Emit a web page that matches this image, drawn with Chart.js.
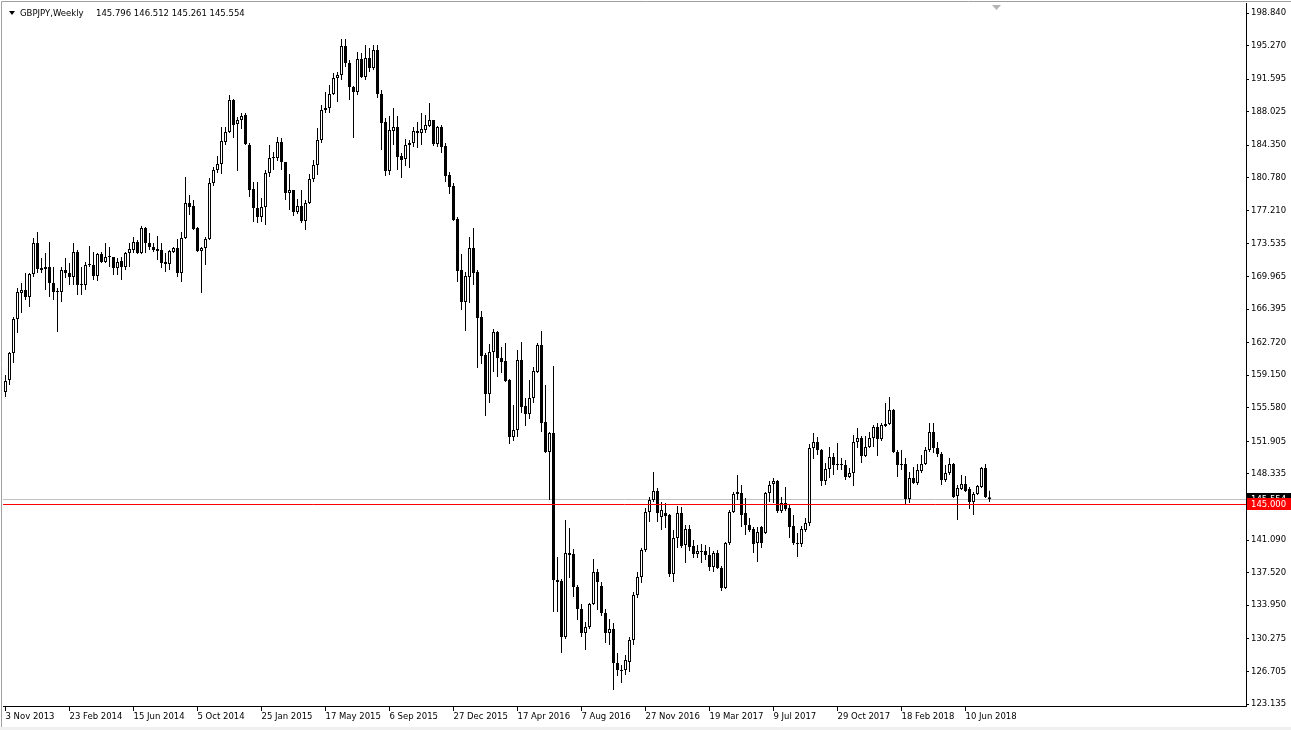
<!DOCTYPE html>
<html lang="en">
<head>
<meta charset="UTF-8">
<title>GBPJPY Weekly</title>
<script src="https://cdn.jsdelivr.net/npm/chart.js@4.4.7/dist/chart.umd.min.js"></script>
<style>
  html, body { margin: 0; padding: 0; background: #fff; }
  #wrap { width: 1291px; height: 730px; }
</style>
</head>
<body>
<div id="wrap"><canvas id="chart" width="1291" height="730"></canvas></div>
<script>
// weekly GBPJPY candles, first bar = week of 3 Nov 2013
const symbolName = 'GBPJPY,Weekly';
const lastQuote = [145.796, 146.512, 145.261, 145.554];

const opens = [
  157.32, 158.63, 161.59, 165.32, 168.16, 168.49, 167.72, 170.24, 173.64, 170.90,
  170.79, 171.01, 169.25, 168.27, 168.27, 170.68, 170.35, 169.91, 172.65, 169.03,
  169.03, 171.22, 171.22, 170.02, 172.43, 171.55, 172.10, 172.10, 170.90, 171.66,
  171.01, 172.54, 172.87, 173.75, 172.54, 175.28, 173.64, 173.20, 172.98, 172.87,
  171.55, 171.33, 172.65, 173.09, 170.35, 174.19, 178.02, 177.69, 175.28, 172.76,
  173.09, 174.08, 180.21, 181.64, 182.30, 184.71, 185.80, 189.31, 186.68, 187.12,
  187.67, 184.38, 179.56, 177.47, 176.49, 177.58, 181.31, 182.95, 182.95, 184.71,
  182.51, 179.12, 179.45, 177.03, 177.69, 176.05, 178.02, 180.65, 182.19, 184.93,
  188.21, 188.43, 189.96, 191.71, 192.04, 195.22, 193.36, 190.73, 190.18, 193.79,
  191.82, 193.90, 192.81, 194.78, 189.96, 186.90, 181.53, 185.91, 186.35, 183.17,
  182.84, 184.38, 184.60, 185.69, 185.69, 186.02, 186.46, 187.12, 184.49, 186.35,
  184.27, 181.09, 179.88, 176.27, 170.68, 167.18, 169.91, 173.09, 170.46, 165.54,
  161.37, 157.11, 161.70, 163.89, 161.04, 160.71, 158.63, 152.38, 153.15, 160.82,
  155.78, 154.91, 156.66, 159.51, 162.47, 154.03, 150.74, 152.82, 136.71, 136.60,
  130.47, 139.67, 139.56, 135.94, 133.54, 130.91, 131.57, 134.09, 137.59, 136.05,
  133.10, 130.91, 131.35, 127.63, 126.86, 126.86, 127.74, 130.14, 135.07, 137.04,
  140.00, 144.17, 145.48, 146.47, 143.62, 144.06, 143.84, 137.37, 141.32, 144.06,
  140.55, 142.30, 140.44, 139.56, 139.89, 139.89, 139.45, 138.14, 139.67, 138.03,
  135.84, 140.77, 144.17, 146.14, 146.25, 144.06, 142.74, 142.30, 140.77, 142.52,
  141.86, 146.25, 147.23, 147.56, 144.28, 145.15, 144.60, 142.63, 140.77, 140.66,
  142.19, 142.96, 151.18, 151.84, 150.96, 147.56, 148.88, 150.19, 149.42, 149.42,
  149.31, 148.00, 148.44, 151.84, 152.27, 150.30, 151.29, 152.27, 153.48, 152.16,
  153.59, 153.81, 155.34, 150.74, 149.42, 149.42, 145.59, 147.89, 147.34, 148.66,
  149.42, 150.96, 152.93, 151.18, 150.52, 147.67, 148.44, 149.42, 145.92, 146.69,
  147.23, 146.69, 145.26, 146.14, 146.90, 148.99, 145.796
];

const highs = [
  159.18, 161.70, 165.54, 168.71, 169.25, 170.35, 170.35, 174.19, 174.84, 171.99,
  172.54, 173.75, 171.01, 168.71, 171.01, 171.99, 171.44, 173.64, 172.87, 171.01,
  171.55, 173.31, 172.65, 172.54, 172.65, 173.64, 173.20, 172.10, 171.99, 172.10,
  172.65, 173.64, 174.30, 173.97, 175.50, 175.39, 174.73, 173.64, 174.41, 173.64,
  172.54, 172.87, 173.20, 174.08, 174.84, 180.87, 178.90, 178.35, 175.39, 173.20,
  174.30, 180.76, 181.97, 183.17, 186.35, 186.35, 189.85, 189.41, 187.45, 187.89,
  187.89, 184.60, 180.32, 180.32, 178.57, 181.64, 184.38, 183.61, 185.26, 185.15,
  182.51, 181.20, 179.45, 178.46, 179.45, 178.35, 181.20, 182.73, 186.24, 188.76,
  190.18, 190.94, 192.26, 192.37, 195.99, 195.99, 193.68, 190.83, 194.56, 194.45,
  195.33, 195.00, 195.33, 195.33, 190.40, 187.34, 187.56, 188.43, 187.56, 183.50,
  185.04, 184.93, 186.35, 186.90, 187.89, 187.67, 188.98, 187.12, 186.46, 186.57,
  184.60, 181.42, 180.21, 176.49, 172.43, 170.46, 174.30, 175.28, 170.68, 166.19,
  161.59, 162.58, 164.22, 164.00, 162.25, 162.69, 158.74, 155.89, 161.92, 162.80,
  156.66, 158.63, 160.06, 162.69, 164.00, 158.08, 152.93, 160.17, 139.23, 136.82,
  143.29, 142.41, 140.11, 136.16, 134.09, 132.12, 134.20, 139.01, 137.92, 136.49,
  133.54, 132.45, 132.01, 128.72, 127.41, 128.50, 130.47, 135.40, 137.59, 140.22,
  144.60, 145.81, 148.55, 146.79, 145.26, 145.15, 143.95, 142.19, 144.82, 144.71,
  142.74, 142.74, 141.10, 140.55, 140.66, 140.55, 140.33, 139.89, 140.00, 138.25,
  140.88, 144.38, 146.36, 148.22, 147.12, 145.70, 143.51, 142.52, 142.52, 142.63,
  146.36, 147.56, 147.89, 147.67, 145.81, 146.90, 144.93, 143.84, 141.86, 142.63,
  143.51, 151.62, 152.82, 152.38, 151.07, 149.53, 151.29, 150.63, 151.73, 150.08,
  149.86, 148.99, 152.60, 153.37, 152.49, 152.49, 152.93, 153.70, 153.92, 153.92,
  156.11, 156.77, 155.45, 150.96, 150.96, 150.08, 148.55, 149.09, 149.42, 150.41,
  151.29, 153.92, 153.92, 151.84, 150.74, 149.31, 150.08, 149.53, 147.12, 148.22,
  148.11, 146.90, 146.36, 147.12, 149.09, 149.42, 146.512
];

const lows = [
  156.77, 158.08, 160.50, 163.78, 165.98, 167.40, 166.63, 169.91, 170.35, 170.35,
  168.49, 167.72, 167.40, 163.89, 167.18, 169.80, 169.03, 169.03, 167.94, 167.94,
  168.49, 171.01, 169.58, 169.47, 171.44, 171.44, 171.01, 170.13, 170.13, 169.58,
  170.68, 171.01, 172.54, 172.43, 172.43, 172.54, 172.87, 172.65, 171.77, 170.90,
  170.46, 170.68, 172.54, 169.91, 169.36, 174.08, 176.71, 175.06, 172.65, 168.16,
  171.22, 173.97, 179.88, 181.31, 181.20, 184.38, 185.69, 185.15, 181.53, 186.13,
  184.38, 178.68, 175.94, 175.83, 175.94, 175.61, 180.87, 181.64, 182.62, 181.64,
  178.35, 177.25, 176.60, 176.82, 175.83, 175.06, 177.91, 180.32, 181.09, 184.60,
  187.89, 187.89, 189.85, 189.09, 191.49, 192.92, 189.31, 185.15, 189.85, 191.71,
  191.49, 192.37, 192.59, 189.52, 183.83, 180.98, 181.09, 184.38, 181.64, 180.76,
  182.08, 181.86, 184.16, 184.05, 184.38, 185.69, 186.35, 184.27, 184.16, 183.50,
  180.32, 179.01, 176.05, 169.36, 166.30, 163.99, 167.07, 169.03, 159.95, 160.39,
  154.69, 156.11, 159.51, 158.96, 159.40, 158.41, 151.62, 151.95, 152.38, 155.02,
  153.59, 154.36, 156.11, 159.40, 152.93, 150.63, 145.48, 133.21, 133.21, 128.71,
  130.25, 136.93, 134.85, 132.34, 130.47, 129.05, 131.35, 133.98, 133.43, 132.78,
  129.82, 129.60, 124.67, 126.21, 125.44, 126.32, 126.64, 129.60, 134.74, 136.38,
  139.78, 143.07, 145.26, 143.07, 142.19, 142.41, 137.04, 136.49, 140.22, 140.22,
  138.58, 139.89, 139.12, 139.12, 138.58, 138.91, 137.70, 137.59, 137.92, 135.51,
  135.73, 140.55, 144.06, 145.48, 142.52, 141.64, 141.97, 139.67, 138.69, 140.22,
  141.75, 145.26, 145.15, 144.06, 144.06, 144.28, 141.32, 140.55, 139.23, 140.33,
  141.97, 142.63, 149.97, 150.41, 147.01, 147.12, 147.89, 148.22, 148.77, 148.77,
  147.67, 147.89, 147.01, 151.18, 149.53, 150.19, 151.18, 151.29, 150.30, 151.95,
  153.48, 153.70, 150.63, 148.00, 148.77, 145.04, 145.15, 147.23, 147.12, 148.44,
  149.31, 150.74, 150.63, 150.19, 147.12, 147.45, 148.22, 145.70, 143.29, 146.58,
  146.36, 144.49, 143.84, 146.03, 146.79, 145.70, 145.261
];

const closes = [
  158.52, 161.59, 165.32, 168.27, 168.49, 167.72, 170.24, 173.64, 170.79, 170.68,
  171.01, 169.25, 168.27, 168.38, 170.68, 170.35, 169.91, 172.65, 169.03, 169.14,
  171.22, 171.33, 170.02, 172.43, 171.55, 172.10, 172.21, 170.90, 171.55, 171.01,
  172.54, 172.98, 173.75, 172.54, 175.28, 173.64, 173.20, 172.87, 172.76, 171.44,
  171.33, 172.76, 173.09, 170.35, 174.19, 178.02, 177.58, 175.17, 172.76, 173.09,
  174.08, 180.21, 181.64, 182.30, 184.82, 185.80, 189.31, 186.57, 187.12, 187.56,
  184.49, 179.45, 177.47, 176.49, 177.58, 181.31, 182.95, 183.06, 184.71, 182.51,
  179.12, 179.45, 177.03, 177.69, 176.05, 178.02, 180.65, 182.19, 184.93, 188.21,
  188.43, 189.96, 191.71, 192.04, 195.22, 193.36, 190.73, 190.18, 193.79, 191.82,
  193.90, 192.81, 194.78, 189.96, 186.79, 181.53, 186.02, 186.35, 183.06, 182.73,
  184.38, 184.60, 185.91, 185.91, 186.13, 186.57, 187.12, 184.49, 186.35, 184.16,
  180.98, 179.78, 176.16, 170.57, 167.18, 170.02, 173.09, 170.35, 165.43, 161.26,
  157.11, 161.70, 163.89, 161.04, 160.60, 158.52, 152.38, 153.15, 160.82, 155.67,
  154.91, 156.66, 159.62, 162.47, 153.92, 150.74, 152.82, 136.71, 136.49, 130.47,
  139.67, 139.45, 135.94, 133.54, 130.91, 131.57, 134.09, 137.59, 136.49, 133.10,
  130.91, 131.35, 127.63, 126.86, 126.75, 127.96, 130.14, 135.07, 137.04, 140.00,
  144.17, 145.48, 146.47, 144.06, 144.38, 143.73, 137.37, 141.32, 144.06, 140.44,
  142.30, 140.33, 139.56, 139.89, 139.78, 139.45, 138.14, 139.67, 138.03, 135.84,
  140.77, 144.17, 146.14, 146.36, 143.84, 142.74, 142.19, 140.66, 141.97, 140.77,
  146.25, 147.12, 147.56, 144.28, 145.15, 144.49, 142.52, 140.77, 140.66, 142.30,
  142.96, 151.18, 151.84, 150.96, 147.56, 148.88, 150.19, 149.31, 149.31, 149.31,
  148.00, 148.44, 151.84, 152.27, 150.30, 151.29, 152.27, 153.48, 152.16, 153.70,
  153.81, 155.34, 150.74, 149.31, 149.31, 145.59, 147.89, 147.34, 148.77, 149.42,
  150.96, 152.93, 151.18, 150.52, 147.67, 148.44, 149.42, 145.81, 146.79, 147.23,
  146.47, 145.26, 146.14, 147.01, 148.99, 145.81, 145.554
];

// one date label every 16 bars
const xTickStep = 16;
const xTickLabels = [
  '3 Nov 2013', '23 Feb 2014', '15 Jun 2014', '5 Oct 2014', '25 Jan 2015', '17 May 2015',
  '6 Sep 2015', '27 Dec 2015', '17 Apr 2016', '7 Aug 2016', '27 Nov 2016', '19 Mar 2017',
  '9 Jul 2017', '29 Oct 2017', '18 Feb 2018', '10 Jun 2018'
];

const yTickValues = [
  198.840, 195.270, 191.595, 188.025, 184.350, 180.780, 177.210, 173.535, 169.965, 166.395,
  162.720, 159.150, 155.580, 151.905, 148.335, 144.765, 141.090, 137.520, 133.950, 130.275,
  126.705, 123.135
];

const bidPrice = 145.554;
const levelPrice = 145.000;

const FONT = '"DejaVu Sans", sans-serif';
const FONT_SIZE = 8.5;

const idx = opens.map((_, i) => i);
const upBar = idx.map(i => closes[i] >= opens[i]);

// header, price tags and window frame
const overlay = {
    id: 'overlay',
    beforeDraw(chart) {
        const c = chart.ctx;
        c.save();
        c.fillStyle = '#ffffff';
        c.fillRect(0, 0, chart.width, chart.height);
        c.fillStyle = '#f0f0f0';
        c.fillRect(0, 727, chart.width, 3);
        c.strokeStyle = '#a0a0a0';
        c.lineWidth = 1;
        c.beginPath();
        c.moveTo(1.5, 727);
        c.lineTo(1.5, 1.5);
        c.lineTo(chart.width, 1.5);
        c.stroke();
        c.restore();
    },
    beforeDatasetsDraw(chart) {
        const c = chart.ctx, a = chart.chartArea, y = chart.scales.y;
        const yb = Math.round(y.getPixelForValue(bidPrice)) + 0.5;
        c.save();
        c.strokeStyle = '#c0c0c0';
        c.lineWidth = 1;
        c.beginPath();
        c.moveTo(a.left, yb);
        c.lineTo(a.right, yb);
        c.stroke();
        c.restore();
    },
    afterDatasetsDraw(chart) {
        const c = chart.ctx, a = chart.chartArea, y = chart.scales.y;
        const yr = Math.round(y.getPixelForValue(levelPrice)) + 0.5;
        c.save();
        c.strokeStyle = '#ff0000';
        c.lineWidth = 1;
        c.beginPath();
        c.moveTo(a.left, yr);
        c.lineTo(a.right, yr);
        c.stroke();
        c.restore();
    },
    afterDraw(chart) {
        const c = chart.ctx, a = chart.chartArea, y = chart.scales.y;
        c.save();
        c.font = FONT_SIZE + 'px ' + FONT;
        c.textBaseline = 'middle';
        c.textAlign = 'left';

        // price tags on the axis
        const tag = (value, bg) => {
            const py = Math.round(y.getPixelForValue(value));
            c.fillStyle = bg;
            c.fillRect(a.right + 1, py - 6, chart.width - a.right - 1, 12);
            c.fillStyle = '#ffffff';
            c.fillText(value.toFixed(3), a.right + 5, py + 0.5);
        };
        tag(bidPrice, '#000000');
        tag(levelPrice, '#ff0000');

        // header
        c.fillStyle = '#000000';
        c.beginPath();
        c.moveTo(9, 11);
        c.lineTo(15, 11);
        c.lineTo(12, 15);
        c.closePath();
        c.fill();
        c.fillText(symbolName, 20, 13.5);
        c.fillText(lastQuote.map(v => v.toFixed(3)).join(' '), 96, 13.5);

        // chart shift marker
        c.fillStyle = '#b4b4b4';
        c.beginPath();
        c.moveTo(992, 5);
        c.lineTo(1001, 5);
        c.lineTo(996.5, 10);
        c.closePath();
        c.fill();
        c.restore();
    }
};

const noPad = s => { s.paddingTop = 0; s.paddingBottom = 0; s.paddingLeft = 0; s.paddingRight = 0; };

const ctx = document.getElementById('chart').getContext('2d');
new Chart(ctx, {
    type: 'bar',
    data: {
        datasets: [
            {
                // wicks
                data: idx.map(i => ({ x: i, y: [lows[i], highs[i]] })),
                backgroundColor: '#000000',
                borderWidth: 0,
                grouped: false,
                maxBarThickness: 1,
                categoryPercentage: 1,
                barPercentage: 1,
                inflateAmount: 0,
                order: 2
            },
            {
                // bodies
                data: idx.map(i => ({ x: i, y: [opens[i], closes[i]] })),
                backgroundColor: upBar.map(u => u ? '#ffffff' : '#000000'),
                borderColor: '#000000',
                borderWidth: 1,
                borderSkipped: false,
                grouped: false,
                maxBarThickness: 3,
                categoryPercentage: 1,
                barPercentage: 1,
                minBarLength: 1,
                inflateAmount: 0,
                order: 1
            }
        ]
    },
    options: {
        responsive: false,
        animation: false,
        devicePixelRatio: 1,
        layout: { padding: { left: 3, top: 3, right: 0, bottom: 0 } },
        plugins: {
            legend: { display: false },
            tooltip: { enabled: false }
        },
        scales: {
            x: {
                type: 'linear',
                min: -0.625,
                max: 310.125,
                offset: false,
                afterBuildTicks: s => { s.ticks = xTickLabels.map((_, k) => ({ value: k * xTickStep })); },
                afterFit: s => { s.height = 24; noPad(s); },
                ticks: {
                    callback: (v, i) => xTickLabels[i],
                    align: 'start',
                    autoSkip: false,
                    maxRotation: 0,
                    padding: 1,
                    color: '#000000',
                    font: { family: FONT, size: FONT_SIZE }
                },
                grid: { display: true, offset: false, drawOnChartArea: false, drawTicks: true, tickLength: 5, color: '#000000' },
                border: { display: true, color: '#000000' }
            },
            y: {
                type: 'linear',
                position: 'right',
                min: 122.916,
                max: 199.936,
                beginAtZero: false,
                stacked: false,
                afterBuildTicks: s => { s.ticks = yTickValues.map(v => ({ value: v })); },
                afterFit: s => { s.width = 45; noPad(s); },
                ticks: {
                    callback: v => v.toFixed(3),
                    autoSkip: false,
                    padding: 2,
                    color: '#000000',
                    font: { family: FONT, size: FONT_SIZE }
                },
                grid: { display: true, drawOnChartArea: false, drawTicks: true, tickLength: 3, color: '#000000' },
                border: { display: true, color: '#000000' }
            }
        }
    },
    plugins: [overlay]
});
</script>
</body>
</html>
